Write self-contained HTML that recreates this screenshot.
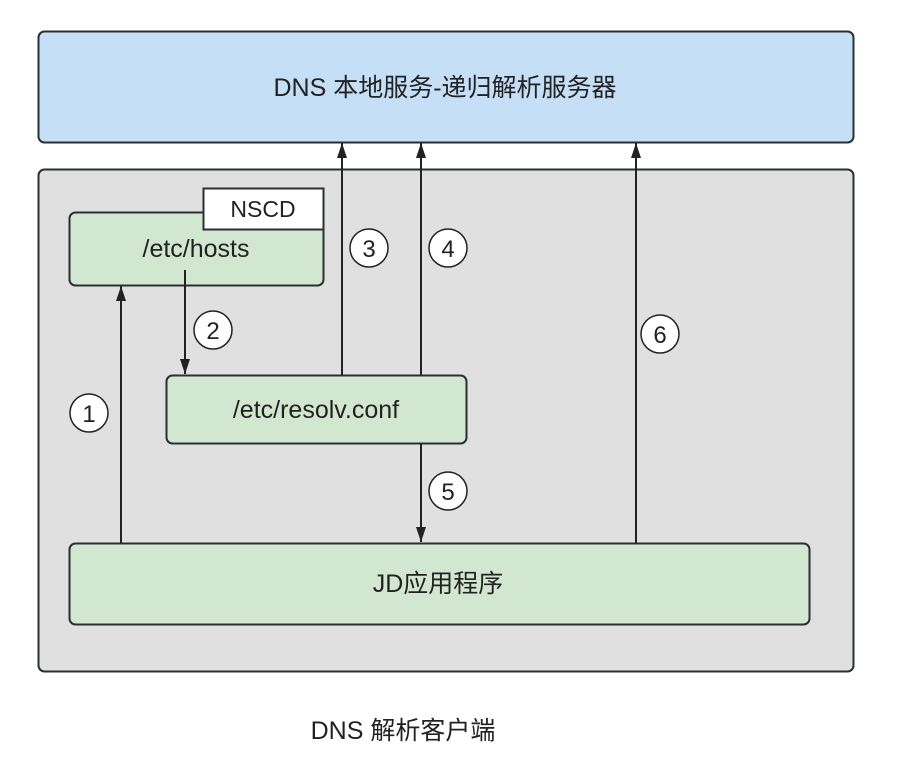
<!DOCTYPE html>
<html><head><meta charset="utf-8"><style>
html,body{margin:0;padding:0;background:#fff;}
svg{display:block;}
text{font-family:"Liberation Sans","Noto Sans CJK SC",sans-serif;fill:#222;}
</style></head><body>
<svg width="920" height="770" viewBox="0 0 920 770" xmlns="http://www.w3.org/2000/svg">
<defs>
<marker id="ah" markerWidth="15" markerHeight="10" refX="15" refY="5" orient="auto" markerUnits="userSpaceOnUse" viewBox="0 0 15 10">
<path d="M0,0 L15,5 L0,10 Z" fill="#222"/></marker>
</defs>
<rect x="38.5" y="31.5" width="815" height="111" rx="6" fill="#c5dff6" stroke="#2a2f33" stroke-width="2"/>
<text x="445" y="96" font-size="25" text-anchor="middle">DNS 本地服务-递归解析服务器</text>
<rect x="38.5" y="169.5" width="815" height="502" rx="6" fill="#e0e0e0" stroke="#2a2f33" stroke-width="2"/>
<rect x="69.5" y="212.5" width="254" height="73" rx="6" fill="#d2e7d0" stroke="#2a2f33" stroke-width="2"/>
<rect x="203.5" y="188.5" width="120" height="41" fill="#fff" stroke="#2a2f33" stroke-width="2"/>
<text x="263" y="217" font-size="23" text-anchor="middle">NSCD</text>
<text x="196" y="257" font-size="25" text-anchor="middle">/etc/hosts</text>
<rect x="166.5" y="375.5" width="300" height="68" rx="6" fill="#d2e7d0" stroke="#2a2f33" stroke-width="2"/>
<text x="316" y="418" font-size="25" text-anchor="middle">/etc/resolv.conf</text>
<rect x="69.5" y="543.5" width="740" height="81" rx="6" fill="#d2e7d0" stroke="#2a2f33" stroke-width="2"/>
<text x="438" y="592" font-size="25" text-anchor="middle">JD应用程序</text>
<g stroke="#222" stroke-width="2" fill="none">
<line x1="121" y1="543" x2="121" y2="286" marker-end="url(#ah)"/>
<line x1="185" y1="270" x2="185" y2="374" marker-end="url(#ah)"/>
<line x1="342" y1="375" x2="342" y2="143" marker-end="url(#ah)"/>
<line x1="421" y1="375" x2="421" y2="143" marker-end="url(#ah)"/>
<line x1="421" y1="444" x2="421" y2="542" marker-end="url(#ah)"/>
<line x1="636" y1="543" x2="636" y2="143" marker-end="url(#ah)"/>
</g>
<g stroke="#222" stroke-width="1.5" fill="#fff">
<circle cx="89" cy="413" r="19"/><circle cx="213" cy="330" r="19"/>
<circle cx="369" cy="248" r="19"/><circle cx="448" cy="248" r="19"/>
<circle cx="448" cy="491" r="19"/><circle cx="660" cy="334" r="19"/>
</g>
<g font-size="24" text-anchor="middle">
<text x="89" y="422">1</text><text x="213" y="339">2</text>
<text x="369" y="257">3</text><text x="448" y="257">4</text>
<text x="448" y="500">5</text><text x="660" y="343">6</text>
</g>
<text x="403" y="739" font-size="25" text-anchor="middle">DNS 解析客户端</text>
</svg>
</body></html>
